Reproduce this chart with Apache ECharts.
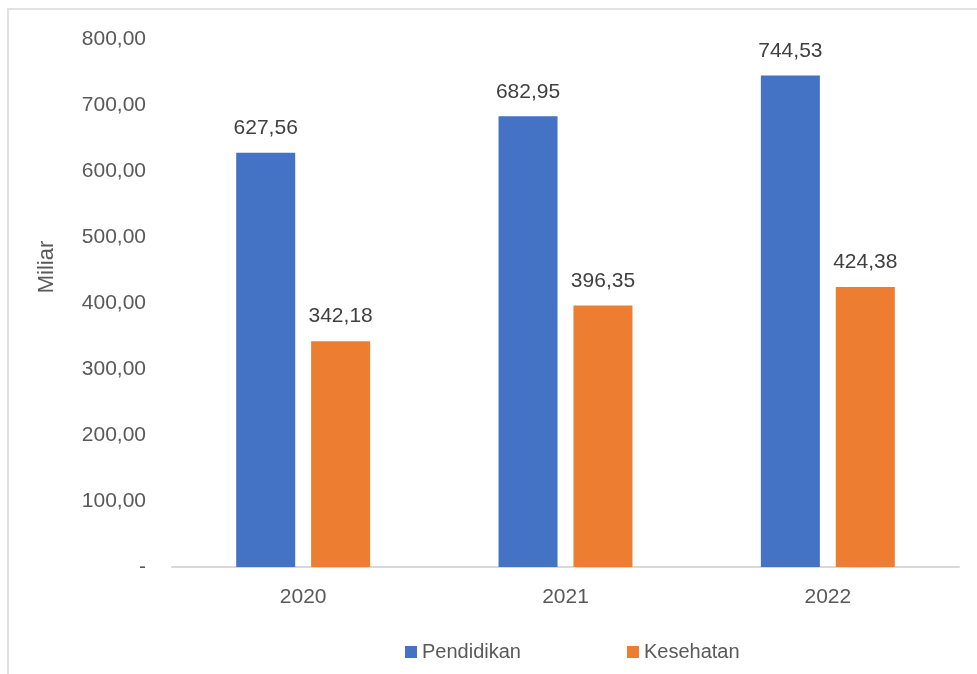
<!DOCTYPE html>
<html>
<head>
<meta charset="utf-8">
<script src="https://cdn.jsdelivr.net/npm/echarts@6/dist/echarts.min.js"></script>
<style>
  html, body { margin: 0; padding: 0; background: #fff; }
  #chart { width: 977px; height: 674px; }
</style>
</head>
<body>
<div id="chart"></div>
<script>
const years = ['2020', '2021', '2022'];
const pendidikan = [627.56, 682.95, 744.53];
const kesehatan = [342.18, 396.35, 424.38];
const yTicks = [0, 100, 200, 300, 400, 500, 600, 700, 800];

const FONT = '"Liberation Sans", Arial, sans-serif';
const fmt = v => v === 0 ? '-' : v.toFixed(2).replace('.', ',');

const chart = echarts.init(document.getElementById('chart'));

const labelStyle = {
  show: true,
  position: 'top',
  distance: 14,
  color: '#404040',
  fontFamily: FONT,
  fontSize: 21,
  formatter: p => fmt(p.value)
};

const option = {
  animation: false,
  textStyle: { fontFamily: FONT },
  grid: { left: 172, right: 18, top: 39, bottom: 107 },
  graphic: [
    {
      type: 'rect',
      shape: { x: 8, y: 9, width: 1000, height: 700 },
      style: { fill: 'none', stroke: '#d9d9d9', lineWidth: 1.5 },
      silent: true
    },
    {
      type: 'text',
      x: 47, y: 267,
      rotation: Math.PI / 2,
      style: {
        text: 'Miliar',
        fill: '#595959',
        font: '22px ' + FONT,
        align: 'center',
        verticalAlign: 'middle'
      }
    }
  ],
  legend: {
    left: 400,
    top: 637,
    itemWidth: 12,
    itemHeight: 12,
    itemGap: 106,
    icon: 'rect',
    textStyle: { color: '#595959', fontFamily: FONT, fontSize: 20 },
    data: ['Pendidikan', 'Kesehatan']
  },
  xAxis: {
    type: 'category',
    data: years,
    axisLine: { lineStyle: { color: '#d9d9d9', width: 2 } },
    axisTick: { show: false },
    axisLabel: { color: '#595959', fontFamily: FONT, fontSize: 21, margin: 20 }
  },
  yAxis: {
    type: 'value',
    min: yTicks[0],
    max: yTicks[yTicks.length - 1],
    interval: 100,
    splitLine: { show: false },
    axisLine: { show: false },
    axisTick: { show: false },
    axisLabel: {
      color: '#595959',
      fontFamily: FONT,
      fontSize: 21,
      margin: 26,
      formatter: v => fmt(v)
    }
  },
  series: [
    {
      name: 'Pendidikan',
      type: 'bar',
      data: pendidikan,
      barWidth: 59,
      barGap: '27%',
      itemStyle: { color: '#4472C4' },
      label: labelStyle
    },
    {
      name: 'Kesehatan',
      type: 'bar',
      data: kesehatan,
      barWidth: 59,
      itemStyle: { color: '#ED7D31' },
      label: labelStyle
    }
  ]
};

chart.setOption(option);
</script>
</body>
</html>
